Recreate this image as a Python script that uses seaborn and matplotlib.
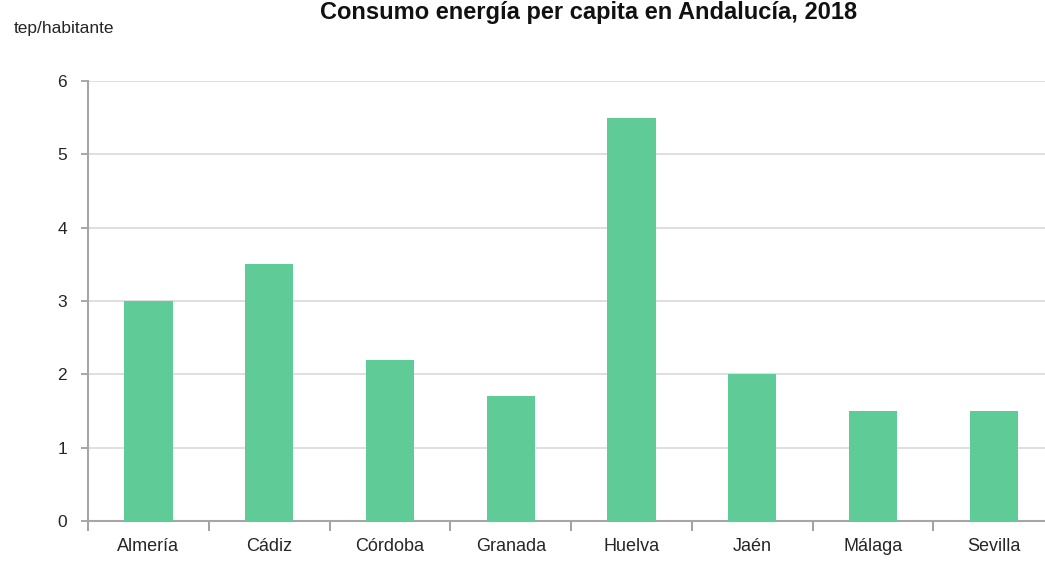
import numpy as np
import pandas as pd
import matplotlib
matplotlib.use('Agg')
import matplotlib.pyplot as plt
import seaborn as sns

provinces = ['Almería', 'Cádiz', 'Córdoba', 'Granada', 'Huelva', 'Jaén', 'Málaga', 'Sevilla']
consumo = [3.0, 3.5, 2.2, 1.7, 5.5, 2.0, 1.5, 1.5]
y_ticks = [0, 1, 2, 3, 4, 5, 6]

title = 'Consumo energía per capita en Andalucía, 2018'
unit_label = 'tep/habitante'

df = pd.DataFrame({'provincia': provinces, 'consumo': consumo})

sns.set_style('white')
plt.rcParams['font.family'] = ['Liberation Sans', 'DejaVu Sans']

fig = plt.figure(figsize=(10.45, 5.61), dpi=100)
ax = fig.add_axes([0.0842, 0.0713, 0.9158, 0.7843])

sns.barplot(data=df, x='provincia', y='consumo', color='#5fcb96', width=0.4,
            saturation=1, linewidth=0, ax=ax, zorder=3)

ax.set_ylim(0, 6)
ax.set_xlim(-0.485, -0.485 + (1045 - 88) / 121)
ax.set_yticks(y_ticks)
ax.yaxis.grid(True, color='#d9d9d9', linewidth=1.2, zorder=0)
ax.set_axisbelow(True)

# category boundary ticks on x
ax.set_xticks(np.arange(len(provinces)) - 0.5, minor=True)
ax.tick_params(axis='x', which='minor', bottom=True, length=7, width=1.3, color='#9a9a9a', direction='out')
ax.tick_params(axis='x', which='major', bottom=False, length=0, pad=12, labelsize=13, labelcolor='#262626')
ax.tick_params(axis='y', which='major', length=5, width=1.2, color='#9a9a9a', direction='out',
               pad=10, labelsize=12.5, labelcolor='#262626', left=True)

for side in ['top', 'right']:
    ax.spines[side].set_visible(False)
for side in ['left', 'bottom']:
    ax.spines[side].set_color('#a6a6a6')
    ax.spines[side].set_linewidth(1.5)

ax.set_xlabel('')
ax.set_ylabel('')

fig.text(0.563, 1 - 1 / 561, title, ha='center', va='top', fontsize=17,
         fontweight='bold', color='#111111')
fig.text(0.013, 1 - 28 / 561, unit_label, ha='left', va='center', fontsize=12.5, color='#262626')

fig.savefig('out.png', dpi=100)
